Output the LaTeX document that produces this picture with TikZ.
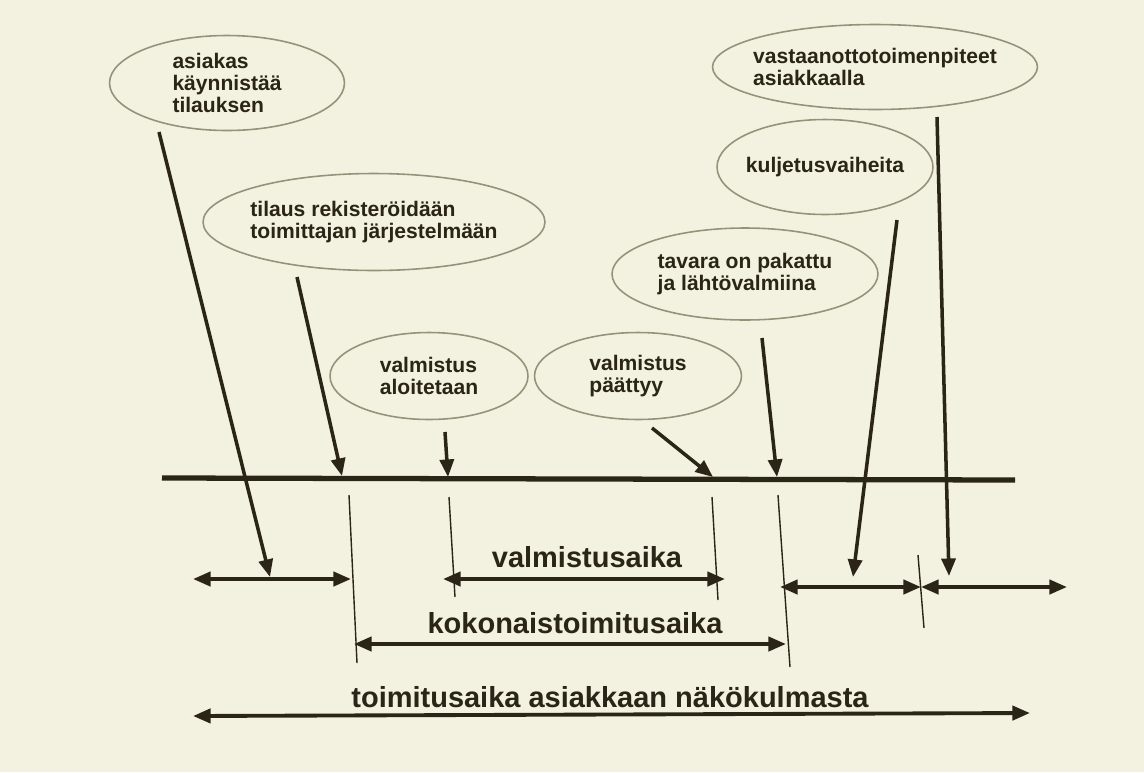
\documentclass[tikz,border=0pt]{standalone}
\usepackage{fontspec}
\setmainfont{Liberation Sans}
\usetikzlibrary{shapes.geometric,arrows.meta}
\definecolor{PaperBg}{RGB}{243,241,224}
\definecolor{InkDark}{RGB}{42,37,22}
\definecolor{EllLine}{RGB}{150,146,122}
\tikzset{
  nd_ell/.style={ellipse,draw=EllLine,line width=0.9pt,inner sep=0pt},
  nd_txt/.style={align=left,text=InkDark,font=\fontsize{12}{12.5}\selectfont\bfseries,inner sep=0pt},
  nd_lbl/.style={text=InkDark,font=\fontsize{16.5}{18}\selectfont\bfseries,inner sep=0pt},
  ptr/.style={draw=InkDark,line width=2pt,-{Triangle[length=10pt,width=8pt]}},
  span_arr/.style={draw=InkDark,line width=2.2pt,{Triangle[length=10pt,width=8pt]}-{Triangle[length=10pt,width=8pt]}},
  tk_line/.style={draw=InkDark,line width=0.8pt},
  time_line/.style={draw=InkDark,line width=3pt},
}

\begin{document}
\begin{tikzpicture}[x=0.02cm,y=-0.02cm]

% background
\fill[PaperBg] (0,0) rectangle (1144,772);
\useasboundingbox (0,0) rectangle (1144,772);

% ellipses
\node[nd_ell,minimum width=4.7cm, minimum height=1.9cm, label={[nd_txt]center:asiakas\\käynnistää\\tilauksen}] (E1) at (227,83) {};
\node[nd_ell,minimum width=6.84cm,minimum height=1.94cm,label={[nd_txt]center:tilaus rekisteröidään\\toimittajan järjestelmään}] (E2) at (374,222) {};
\node[nd_ell,minimum width=6.5cm, minimum height=1.7cm, label={[nd_txt]center:vastaanottotoimenpiteet\\asiakkaalla}] (E3) at (875,67) {};
\node[nd_ell,minimum width=4.32cm,minimum height=1.9cm, label={[nd_txt]center:kuljetusvaiheita}] (E4) at (825,167) {};
\node[nd_ell,minimum width=5.32cm,minimum height=1.84cm,label={[nd_txt]center:tavara on pakattu\\ja lähtövalmiina}] (E5) at (745,274) {};
\node[nd_ell,minimum width=3.96cm,minimum height=1.74cm,label={[nd_txt]center:valmistus\\aloitetaan}] (E6) at (429,376) {};
\node[nd_ell,minimum width=4.14cm,minimum height=1.74cm,label={[nd_txt]center:valmistus\\päättyy}] (E7) at (638,376) {};

% time line
\coordinate (TL) at (162,478);
\coordinate (TR) at (1015,480);
\draw[time_line] (TL) -- (TR);

% ticks
\coordinate (K1a) at (349,495); \coordinate (K1b) at (357,663);
\coordinate (K2a) at (449,497); \coordinate (K2b) at (455,597);
\coordinate (K3a) at (712,497); \coordinate (K3b) at (718,600);
\coordinate (K4a) at (778,495); \coordinate (K4b) at (790,667);
\coordinate (K5a) at (918,555); \coordinate (K5b) at (924,628);
\foreach \k in {1,...,5} \draw[tk_line] (K\k a) -- (K\k b);

% spans
\coordinate (S1a) at (193,579);  \coordinate (S1b) at (351,579);
\coordinate (S2a) at (443,579);  \coordinate (S2b) at (725,579);
\coordinate (S3a) at (780,587);  \coordinate (S3m) at (921,587); \coordinate (S3b) at (1067,587);
\coordinate (S4a) at (354,644);  \coordinate (S4b) at (786,644);
\coordinate (S5a) at (193,716);  \coordinate (S5b) at (1030,713);
\draw[span_arr] (S1a) -- (S1b);
\draw[span_arr] (S2a) -- (S2b);
\draw[span_arr] (S3a) -- (S3m);
\draw[span_arr] (S3m) -- (S3b);
\draw[span_arr] (S4a) -- (S4b);
\draw[span_arr] (S5a) -- (S5b);

% span labels
\node[nd_lbl] (L1) at (587,557) {valmistusaika};
\node[nd_lbl] (L2) at (575,623) {kokonaistoimitusaika};
\node[nd_lbl] (L3) at (610,697) {toimitusaika asiakkaan näkökulmasta};

% pointers
\coordinate (P1) at (159,132); \coordinate (Q1) at (270,577);
\coordinate (P2) at (297,277); \coordinate (Q2) at (342,476);
\coordinate (P3) at (937,117); \coordinate (Q3) at (949,576);
\coordinate (P4) at (897,220); \coordinate (Q4) at (853,577);
\coordinate (P5) at (762,338); \coordinate (Q5) at (777,477);
\coordinate (P6) at (445,432); \coordinate (Q6) at (448,477);
\coordinate (P7) at (652,428); \coordinate (Q7) at (713,477);
\foreach \p in {1,...,7} \draw[ptr] (P\p) -- (Q\p);

\end{tikzpicture}
\end{document}
